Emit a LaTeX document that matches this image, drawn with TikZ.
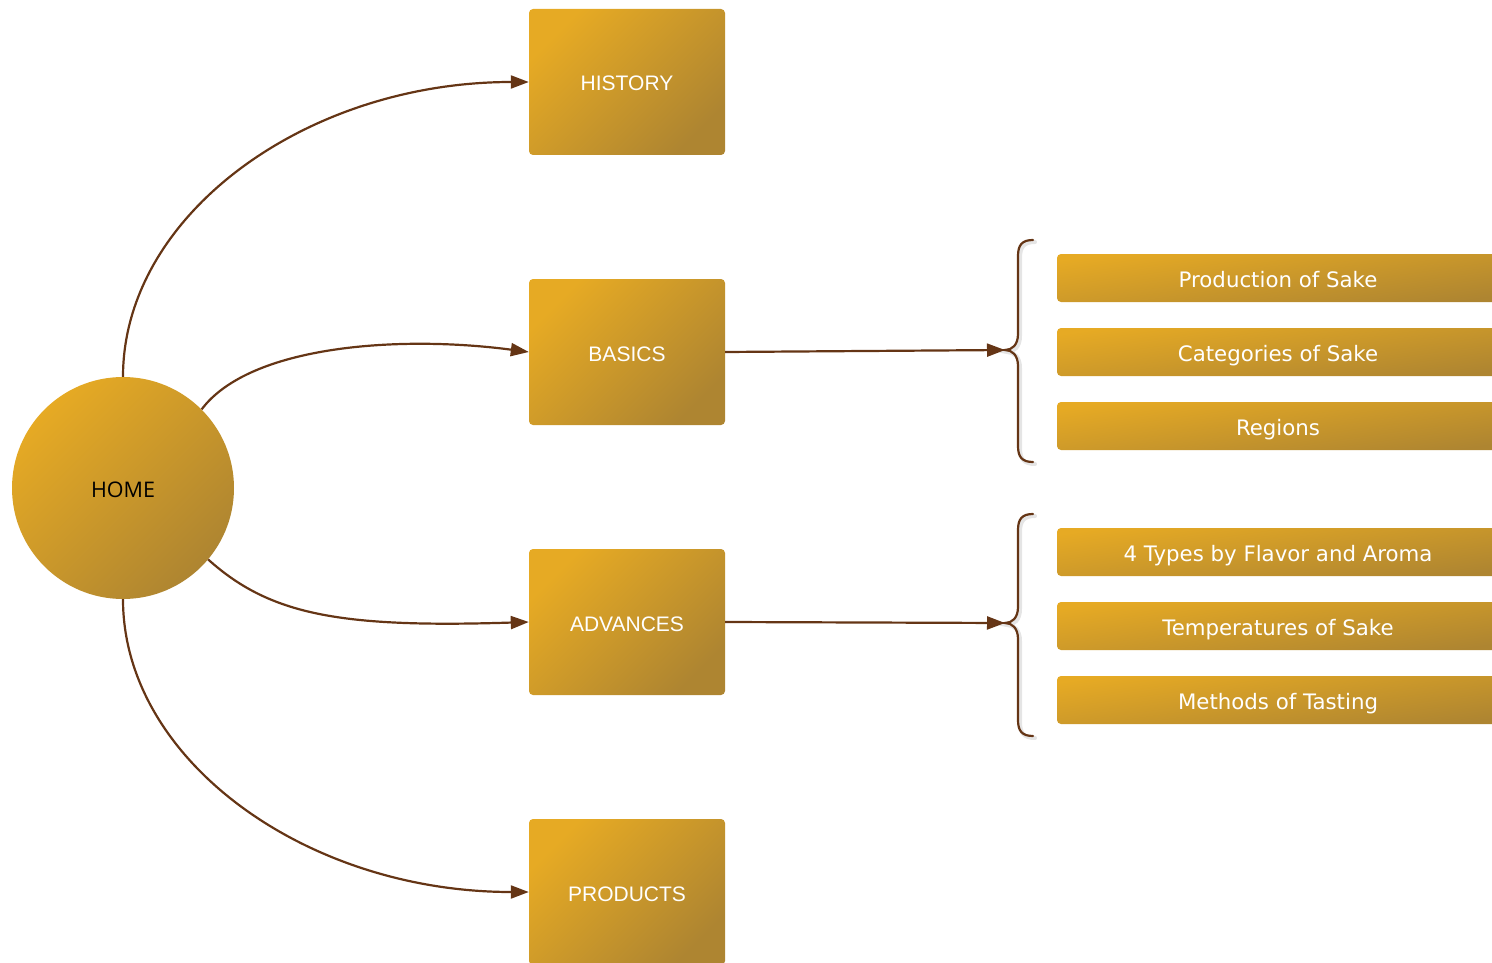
\documentclass[tikz,border=0pt]{standalone}
\usepackage{fontspec}
\setmainfont{Liberation Sans}
\newfontfamily\homefont{Open Sans}
\newfontfamily\subfont{DejaVu Sans}
\usetikzlibrary{arrows.meta}
\definecolor{goldA}{HTML}{E6AA24}
\definecolor{goldB}{HTML}{AE8531}
\definecolor{conn}{HTML}{653515}
\begin{document}
\begin{tikzpicture}[x=1pt,y=-1pt,
  bigbox/.style={rectangle, rounded corners=4pt, minimum width=196pt, minimum height=146pt,
    top color=goldA, bottom color=goldB, shading angle=45, text=white,
    font=\fontsize{21}{24}\selectfont, inner sep=0pt, text height=18pt, text depth=0pt},
  subbox/.style={rectangle, rounded corners=4pt, minimum width=442pt, minimum height=48pt,
    top color=goldA, bottom color=goldB, shading angle=8, text=white,
    font=\subfont\fontsize{21.3}{24}\selectfont, inner sep=0pt, text height=18pt, text depth=0pt},
  homenode/.style={circle, minimum size=222pt, inner sep=0pt,
    top color=goldA, bottom color=goldB, shading angle=45, text=black,
    font=\homefont\fontsize{21.5}{24}\selectfont, text height=19pt, text depth=0pt},
  link/.style={draw=conn, line width=2.2pt, -{Triangle[length=18pt,width=13pt]}},
  bracestyle/.style={draw=conn, line width=2.2pt, line cap=round},
  braceshadow/.style={draw=black, opacity=0.10, line width=4pt, line cap=round}
]
\useasboundingbox (0,0) rectangle (1492,963);
\clip (0,0) rectangle (1492,963);

\node[homenode] (home) at (123,488) {HOME};
\node[bigbox] (history) at (627,82) {HISTORY};
\node[bigbox] (basics) at (627,352) {BASICS};
\node[bigbox] (advances) at (627,622) {ADVANCES};
\node[bigbox] (products) at (627,892) {PRODUCTS};

\node[subbox] (prod) at (1278,278) {Production of Sake};
\node[subbox] (cat) at (1278,352) {Categories of Sake};
\node[subbox] (reg) at (1278,426) {Regions};
\node[subbox] (types) at (1278,552) {4 Types by Flavor and Aroma};
\node[subbox] (temp) at (1278,626) {Temperatures of Sake};
\node[subbox] (meth) at (1278,700) {Methods of Tasting};

\coordinate (tipA) at (1005,350);
\coordinate (tipB) at (1005,623);

% braces (shadow then brace)
\foreach \s/\w in {braceshadow/2, bracestyle/0}{
  \draw[\s, shift={(\w,\w)}] (1033,240) .. controls (1022,240) and (1018,245) .. (1018,256)
    -- (1018,334) .. controls (1018,345) and (1012,350) .. (1005,350)
    .. controls (1012,350) and (1018,355) .. (1018,366)
    -- (1018,446) .. controls (1018,457) and (1022,462) .. (1033,462);
  \draw[\s, shift={(\w,\w)}] (1033,514) .. controls (1022,514) and (1018,519) .. (1018,530)
    -- (1018,607) .. controls (1018,618) and (1012,623) .. (1005,623)
    .. controls (1012,623) and (1018,628) .. (1018,639)
    -- (1018,720) .. controls (1018,731) and (1022,736) .. (1033,736);
}

\draw[link] (home.north) .. controls (123,215) and (306,82) .. (history.west);
\draw[link] (home.45) .. controls (250,345) and (400,335) .. (basics.west);
\draw[link] (home.-40) .. controls (270,615) and (340,628) .. (advances.west);
\draw[link] (home.south) .. controls (123,760) and (306,892) .. (products.west);
\draw[link] (basics.east) -- (tipA);
\draw[link] (advances.east) -- (tipB);
\end{tikzpicture}
\end{document}
